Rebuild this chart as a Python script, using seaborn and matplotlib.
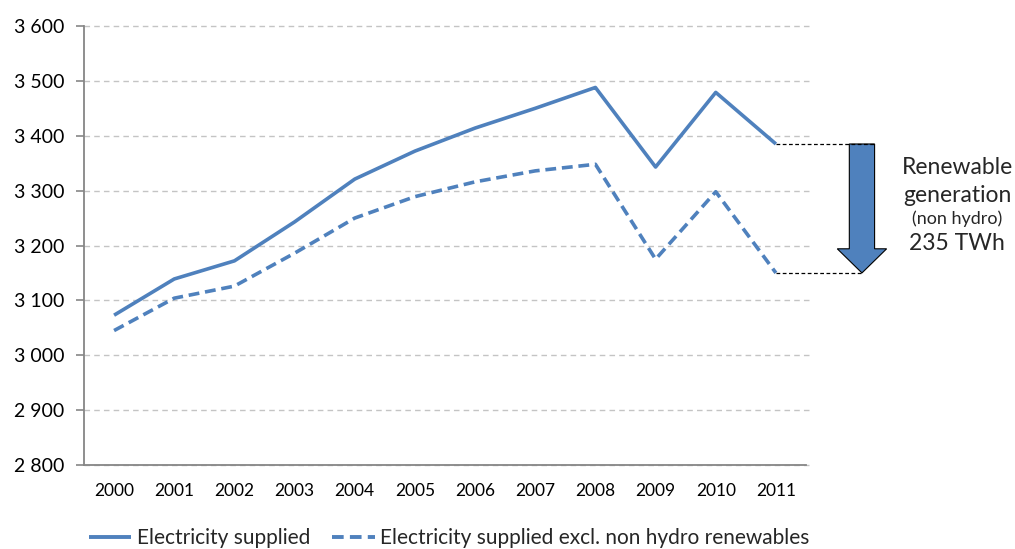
import matplotlib
matplotlib.use("Agg")
import matplotlib.pyplot as plt
from matplotlib.patches import FancyArrow
from matplotlib.ticker import FuncFormatter, MultipleLocator
import numpy as np
import pandas as pd
import seaborn as sns

years = ["2000", "2001", "2002", "2003", "2004", "2005",
         "2006", "2007", "2008", "2009", "2010", "2011"]
supplied = [3073, 3139, 3172, 3243, 3321, 3372, 3414, 3450, 3488, 3343, 3479, 3385]
supplied_excl = [3045, 3104, 3126, 3186, 3250, 3289, 3316, 3336, 3348, 3175, 3298, 3150]
series_names = ["Electricity supplied",
                "Electricity supplied excl. non hydro renewables"]
renewable_gap = 235  # TWh, 2011

df = pd.concat([
    pd.DataFrame({"pos": np.arange(len(years)), "value": supplied, "series": series_names[0]}),
    pd.DataFrame({"pos": np.arange(len(years)), "value": supplied_excl, "series": series_names[1]}),
])

sns.set_theme(style="white")
plt.rcParams["font.family"] = ["Lato", "DejaVu Sans"]

blue = "#4F81BD"
axis_grey = "#868686"

fig = plt.figure(figsize=(10.15, 5.49), dpi=100)
ax = fig.add_axes([84 / 1015, 1 - 465 / 549, (806 - 84) / 1015, (465 - 26) / 549])

sns.lineplot(data=df, x="pos", y="value", hue="series", style="series",
             palette=[blue, blue], dashes=[(1, 0), (3, 1.6)],
             linewidth=2.6, ax=ax, legend=True)

ax.set_xlim(-0.5, len(years) - 0.5)
ax.set_ylim(2800, 3600)
ax.set_xlabel("")
ax.set_ylabel("")

# axes styling
for side in ["top", "right"]:
    ax.spines[side].set_visible(False)
for side in ["left", "bottom"]:
    ax.spines[side].set_color(axis_grey)
    ax.spines[side].set_linewidth(1.3)

ax.yaxis.set_major_locator(MultipleLocator(100))
ax.yaxis.set_major_formatter(FuncFormatter(lambda v, p: f"{int(v):,}".replace(",", " ")))

# dashed horizontal gridlines, running slightly past the x axis end
for v in np.arange(2800, 3601, 100):
    ax.plot([-0.5, len(years) - 0.4], [v, v], color="#c4c4c4",
            ls=(0, (4, 3)), lw=1, zorder=0, clip_on=False)

ax.set_xticks(np.arange(len(years)))
ax.set_xticklabels(years)
ax.set_xticks(np.arange(-0.5, len(years)), minor=True)
ax.tick_params(axis="x", which="major", length=0, pad=13, labelsize=12.5, labelcolor="black")
ax.tick_params(axis="x", which="minor", length=5, width=1.2, color=axis_grey, direction="out")
ax.tick_params(axis="y", which="major", length=6, width=1.2, color=axis_grey,
               direction="out", labelsize=14, labelcolor="black", pad=8, left=True)

# legend below the plot
handles, labels = ax.get_legend_handles_labels()
ax.legend(handles, labels, loc="center", bbox_to_anchor=(449 / 1015, 1 - 538 / 549),
          bbox_transform=fig.transFigure, ncol=2, frameon=False, fontsize=15,
          handlelength=2.05, handletextpad=0.25, columnspacing=1.05)
for h in ax.get_legend().get_lines():
    h.set_linewidth(2.8)

# gap annotation for 2011
last = len(years) - 1
top_val = supplied[last]
bot_val = top_val - renewable_gap
arrow_x = last + 1.43
ax.plot([last, arrow_x + 0.2], [top_val, top_val], color="black", lw=0.9,
        ls=(0, (3, 2)), clip_on=False)
ax.plot([last, arrow_x], [bot_val, bot_val], color="black", lw=0.9,
        ls=(0, (3, 2)), clip_on=False)
arrow = FancyArrow(arrow_x, top_val, 0, -renewable_gap, width=0.42,
                   head_width=0.82, head_length=44, length_includes_head=True,
                   facecolor=blue, edgecolor="black", linewidth=0.8, clip_on=False)
ax.add_patch(arrow)

cx = 957 / 1015
fig.text(cx, 1 - 167 / 549, "Renewable", ha="center", va="center", fontsize=16.5)
fig.text(cx, 1 - 196 / 549, "generation", ha="center", va="center", fontsize=16.5)
fig.text(cx, 1 - 219 / 549, "(non hydro)", ha="center", va="center", fontsize=13)
fig.text(cx, 1 - 244 / 549, f"{renewable_gap} TWh", ha="center", va="center", fontsize=16.5)

fig.savefig("out.png", dpi=100)
